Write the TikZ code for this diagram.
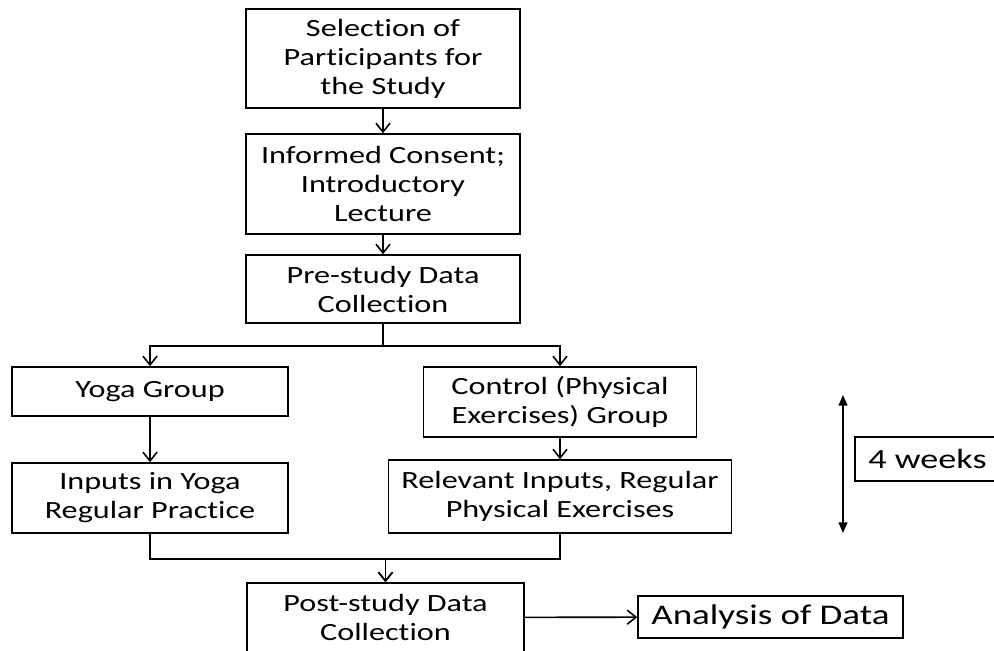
\documentclass[tikz,border=0pt]{standalone}
\usepackage{fontspec}
\setmainfont{Carlito}[FakeStretch=1.3,Ligatures=NoCommon]
\usetikzlibrary{arrows.meta}
\newcommand{\flowbox}[5]{%
 \node[box,minimum width={#3},minimum height={#4}] ({#1}) at (#2) {#5};%
}

\begin{document}
\begin{tikzpicture}[x=0.02cm,y=-0.02cm,
  box/.style={draw,line width=0.9pt,align=center,inner sep=0pt,
    font=\fontsize{14.1}{16.5}\selectfont},
  arr/.style={line width=0.9pt,-{Straight Barb[length=5pt,width=8pt]}}]
  \useasboundingbox (0,0) rectangle (994,650);
  \clip (0,0) rectangle (994,650);
  \flowbox{b1}{383,58.5}{5.48cm}{1.98cm}{Selection of\\Participants for\\the Study};
  \flowbox{b2}{383,184}{5.48cm}{2.0cm}{Informed Consent;\\Introductory\\Lecture};
  \flowbox{b3}{383,289}{5.48cm}{1.36cm}{Pre-study Data\\Collection};
  \flowbox{y1}{150,391.5}{5.52cm}{0.98cm}{Yoga Group};
  \flowbox{c1}{560,402}{5.46cm}{1.4cm}{Control (Physical\\Exercises) Group};
  \flowbox{y2}{150,498}{5.52cm}{1.4cm}{Inputs in Yoga\\Regular Practice};
  \flowbox{c2}{560,496.5}{6.86cm}{1.46cm}{Relevant Inputs, Regular\\Physical Exercises};
  \flowbox{p1}{385.5,617.5}{5.54cm}{1.38cm}{Post-study Data\\Collection};
  \node[box,minimum width=5.3cm,minimum height=0.84cm,font=\fontsize{16.2}{19}\selectfont] (a1) at (770.5,617) {Analysis of Data};
  \node[box,minimum width=2.9cm,minimum height=0.88cm,font=\fontsize{15.8}{19}\selectfont] (w1) at (927.5,459) {4 weeks};
  \coordinate (t1) at (843,395);
  \coordinate (t2) at (843,533);
  % main line
  \draw[arr] (b1) -- (b2);
  \draw[arr] (b2) -- (b3);
  \draw[arr] (b3.south) -- ++(0,22) -| (y1.north);
  \draw[arr] (b3.south) -- ++(0,22) -| (c1.north);
  \draw[arr] (y1) -- (y2);
  \draw[arr] (c1) -- (c2);
  \draw[arr] (y2.south) -- ++(0,25) -| (p1.north);
  \draw[arr] (c2.south) -- ++(0,25) -| (p1.north);
  \draw[arr] (p1) -- (a1);
  % duration
  \draw[line width=0.9pt,{Triangle[length=6pt,width=5pt]}-{Triangle[length=6pt,width=5pt]}] (t1) -- (t2);
\end{tikzpicture}
\end{document}
